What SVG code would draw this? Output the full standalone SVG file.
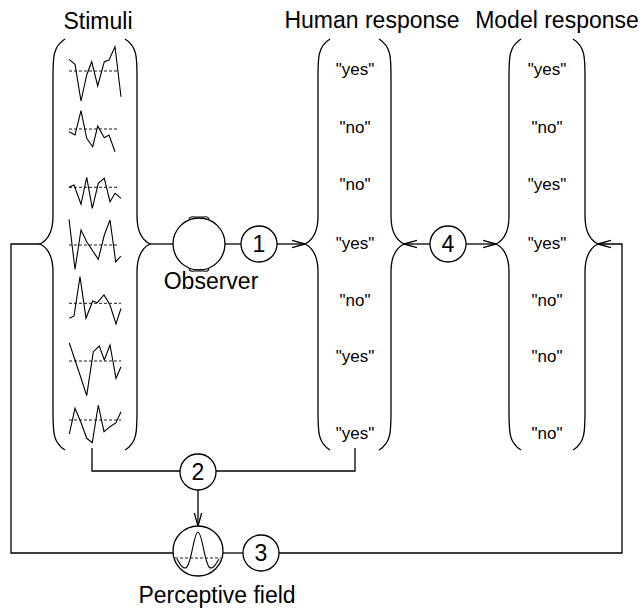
<svg xmlns="http://www.w3.org/2000/svg" width="643" height="609" viewBox="0 0 643 609">
<style>
.ln{fill:none;stroke:#000;stroke-width:1.3}
.thin{fill:none;stroke:#000;stroke-width:1.1}
.dash{fill:none;stroke:#000;stroke-width:0.9;stroke-dasharray:3,2}
.lbl{font-family:"Liberation Sans",Arial,Helvetica,sans-serif;font-size:23px;fill:#000;text-anchor:middle}
.rsp{font-family:"Liberation Sans",Arial,Helvetica,sans-serif;font-size:17px;fill:#000;text-anchor:middle}
.num{font-family:"Liberation Sans",Arial,Helvetica,sans-serif;font-size:23px;fill:#000;text-anchor:middle}
.circ{fill:#fff;stroke:#000;stroke-width:1.3}
</style>
<defs>
<marker id="ah" markerUnits="userSpaceOnUse" viewBox="0 0 14 10" refX="13" refY="5" markerWidth="14" markerHeight="10" orient="auto">
<path d="M0,1.3 L13,5 L0,8.7" fill="none" stroke="#000" stroke-width="1.3"/>
</marker>
<path id="lb" class="ln" d="M25,-205 C12,-197 13,-185 13,-160 L13,-28 C13,-10 6,-3 0,0 C6,3 13,10 13,28 L13,161 C13,186 12,198 25,206"/>
<path id="rb" class="ln" d="M-25,-205 C-12,-197 -13,-185 -13,-160 L-13,-28 C-13,-10 -6,-3 0,0 C-6,3 -13,10 -13,28 L-13,161 C-13,186 -12,198 -25,206"/>
</defs>

<g id="connectors">
<path class="ln" d="M40,244 H11 V553 H173"/>
<path class="ln" d="M223,553 H243"/>
<path class="ln" d="M279,553 H622 V244 H598" marker-end="url(#ah)"/>
<path class="ln" d="M150,244 H173"/>
<path class="ln" d="M225,244 H241"/>
<path class="ln" d="M277,244 H305" marker-end="url(#ah)"/>
<path class="ln" d="M430,244 H404" marker-end="url(#ah)"/>
<path class="ln" d="M466,244 H496" marker-end="url(#ah)"/>
<path class="ln" d="M92,448 V471 H180"/>
<path class="ln" d="M216,471 H355 V448"/>
<path class="ln" d="M198,490 V526" marker-end="url(#ah)"/>
</g>

<g id="stimuli">
<text class="lbl" x="98" y="29">Stimuli</text>
<use href="#lb" x="40" y="244"/>
<use href="#rb" x="150" y="244"/>
<line class="dash" x1="69" y1="71" x2="119" y2="71"/>
<polyline class="thin" points="69,59.3 75,64.3 81,101 86.7,75 91.7,61.7 97.7,86 104.3,61.7 109,60 115,46.7 121,96.7"/>
<line class="dash" x1="69" y1="129" x2="119" y2="129"/>
<polyline class="thin" points="69,131.7 75,135 81,110.7 86.7,138.3 92.7,146.7 97.7,126 104.3,137.7 109,135 115,151.7"/>
<line class="dash" x1="69" y1="187.3" x2="119" y2="187.3"/>
<polyline class="thin" points="69,187.3 74,185 81,204.3 86.7,177.3 92.3,208.3 98.3,183.3 104.3,178.3 110,201.7 115,193.3 121,198.3"/>
<line class="dash" x1="69" y1="245" x2="119" y2="245"/>
<polyline class="thin" points="69,219.3 75,269.3 81,230 86.7,241.7 98.3,259.3 104.3,235 110,220 115.7,261.7 121,256"/>
<line class="dash" x1="69" y1="303.3" x2="121" y2="303.3"/>
<polyline class="thin" points="69.3,318.3 74,316 80,276.7 86,318.3 92.7,301 97.3,302.7 104,295 110,305 116,324 121,308.3"/>
<line class="dash" x1="69" y1="361" x2="121" y2="361"/>
<polyline class="thin" points="69.3,343 80,375 86.7,395.7 93.3,351.7 99.3,346 104.3,360 110,345 116,378.3 121,366.7"/>
<line class="dash" x1="69" y1="420" x2="121" y2="420"/>
<polyline class="thin" points="69.3,434 75,408.3 80.7,421.7 86.7,438.3 92.3,442.7 98.3,405 104,431.7 110,426.7 116,422.7 121,411.7"/>
</g>

<g id="observer">
<circle class="circ" cx="199" cy="244" r="26"/>
<path class="thin" d="M189,219 Q190,216 194,217 L204,217 Q208,216 209,219"/>
<path class="thin" d="M189,269 Q190,272 194,271 L204,271 Q208,272 209,269"/>
<text class="lbl" x="211" y="289">Observer</text>
</g>

<g id="human-response">
<text class="lbl" x="372" y="28">Human response</text>
<use href="#lb" x="305" y="244"/>
<use href="#rb" x="404" y="244"/>
<text class="rsp" x="355" y="75">"yes"</text>
<text class="rsp" x="355" y="133">"no"</text>
<text class="rsp" x="355" y="190">"no"</text>
<text class="rsp" x="355" y="249">"yes"</text>
<text class="rsp" x="355" y="306">"no"</text>
<text class="rsp" x="355" y="362">"yes"</text>
<text class="rsp" x="355" y="439">"yes"</text>
</g>

<g id="model-response">
<text class="lbl" x="557" y="28">Model response</text>
<use href="#lb" x="496" y="244"/>
<use href="#rb" x="598" y="244"/>
<text class="rsp" x="547" y="75">"yes"</text>
<text class="rsp" x="547" y="133">"no"</text>
<text class="rsp" x="547" y="190">"yes"</text>
<text class="rsp" x="547" y="249">"yes"</text>
<text class="rsp" x="547" y="306">"no"</text>
<text class="rsp" x="547" y="362">"no"</text>
<text class="rsp" x="547" y="439">"no"</text>
</g>

<g id="step1">
<circle class="circ" cx="259" cy="244" r="18"/>
<text class="num" x="259" y="252">1</text>
</g>
<g id="step2">
<circle class="circ" cx="198" cy="472" r="18"/>
<text class="num" x="198" y="480">2</text>
</g>
<g id="step3">
<circle class="circ" cx="261" cy="553" r="18"/>
<text class="num" x="261" y="561">3</text>
</g>
<g id="step4">
<circle class="circ" cx="448" cy="244" r="18"/>
<text class="num" x="448" y="252">4</text>
</g>

<g id="perceptive-field">
<circle class="circ" cx="198" cy="551" r="25"/>
<line class="dash" x1="175" y1="558" x2="221" y2="558"/>
<path class="thin" d="M177,559 C181,566 184,570 187,567 C192,560 194,532 198,532 C202,532 204,560 209,567 C212,570 215,566 219,559"/>
<text class="lbl" x="217" y="603">Perceptive field</text>
</g>
</svg>
